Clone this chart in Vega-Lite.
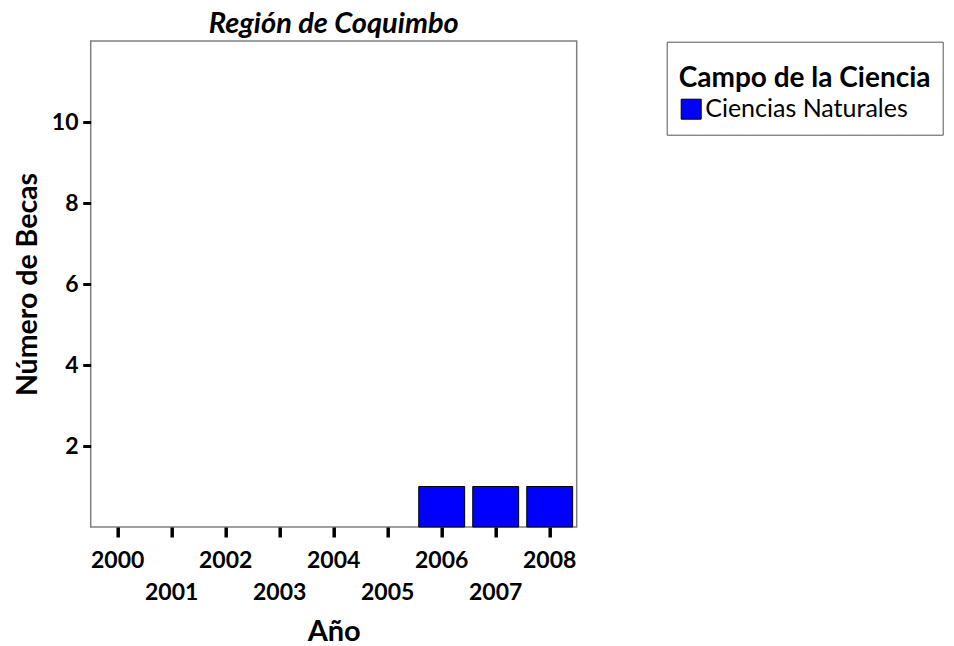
{
  "$schema": "https://vega.github.io/schema/vega-lite/v6.json",
  "width": 486,
  "height": 486,
  "autosize": {"type": "none"},
  "padding": {"left": 90.7, "top": 41, "right": 377.3, "bottom": 119},
  "background": "white",
  "data": {
    "values": [
      {"anio": "2006", "becas": 1, "campo": "Ciencias Naturales"},
      {"anio": "2007", "becas": 1, "campo": "Ciencias Naturales"},
      {"anio": "2008", "becas": 1, "campo": "Ciencias Naturales"}
    ]
  },
  "title": {
    "text": "Región de Coquimbo",
    "font": "Lato",
    "fontSize": 29,
    "fontWeight": "bold",
    "fontStyle": "italic",
    "color": "black",
    "anchor": "middle",
    "frame": "group",
    "offset": 2.4
  },
  "mark": {"type": "bar", "stroke": "black", "strokeWidth": 1, "opacity": 1},
  "encoding": {
    "x": {
      "field": "anio",
      "type": "ordinal",
      "scale": {
        "domain": ["2000", "2001", "2002", "2003", "2004", "2005", "2006", "2007", "2008"],
        "paddingInner": 0.15,
        "paddingOuter": 0.075
      },
      "axis": {
        "title": "Año",
        "labelAngle": 0,
        "labelExpr": "toNumber(datum.value) % 2 == 0 ? datum.label : ['', datum.label]",
        "labelLineHeight": 32,
        "labelBaseline": "top",
        "labelPadding": 12,
        "labelOverlap": false,
        "labelBound": false,
        "labelFlush": false,
        "labelFont": "Lato",
        "labelFontSize": 23,
        "labelFontWeight": "bold",
        "labelColor": "black",
        "tickSize": 10,
        "tickWidth": 3.5,
        "tickColor": "black",
        "domain": false,
        "grid": false,
        "titleFont": "Lato",
        "titleFontSize": 29,
        "titleFontWeight": "bold",
        "titleColor": "black",
        "titleBaseline": "alphabetic",
        "titleY": 113
      }
    },
    "y": {
      "field": "becas",
      "type": "quantitative",
      "scale": {"domain": [0, 12], "nice": false},
      "axis": {
        "title": "Número de Becas",
        "values": [2, 4, 6, 8, 10],
        "labelFont": "Lato",
        "labelFontSize": 23,
        "labelFontWeight": "bold",
        "labelColor": "black",
        "labelPadding": 4.7,
        "tickSize": 8,
        "tickWidth": 3,
        "tickColor": "black",
        "domain": false,
        "grid": false,
        "titleFont": "Lato",
        "titleFontSize": 28.5,
        "titleFontWeight": "bold",
        "titleColor": "black",
        "titleBaseline": "alphabetic",
        "titleX": -54
      }
    },
    "color": {
      "field": "campo",
      "type": "nominal",
      "scale": {"range": ["#0000ff"]},
      "legend": {
        "orient": "none",
        "legendX": 576,
        "legendY": 0.7,
        "title": ["", "Campo de la Ciencia"],
        "titleFont": "Lato",
        "titleFontSize": 28,
        "titleFontWeight": "bold",
        "titleColor": "black",
        "titleBaseline": "top",
        "titleLineHeight": 11,
        "titlePadding": 4,
        "titleLimit": 500,
        "labelFont": "Lato",
        "labelFontSize": 25,
        "labelColor": "black",
        "labelLimit": 500,
        "labelOffset": 1.5,
        "symbolType": "square",
        "symbolSize": 400,
        "symbolStrokeColor": "black",
        "symbolStrokeWidth": 1,
        "symbolOpacity": 1,
        "padding": 12,
        "strokeColor": "#555555"
      }
    }
  },
  "config": {
    "view": {"stroke": "#808080", "strokeWidth": 1.5},
    "axis": {"grid": false}
  }
}
